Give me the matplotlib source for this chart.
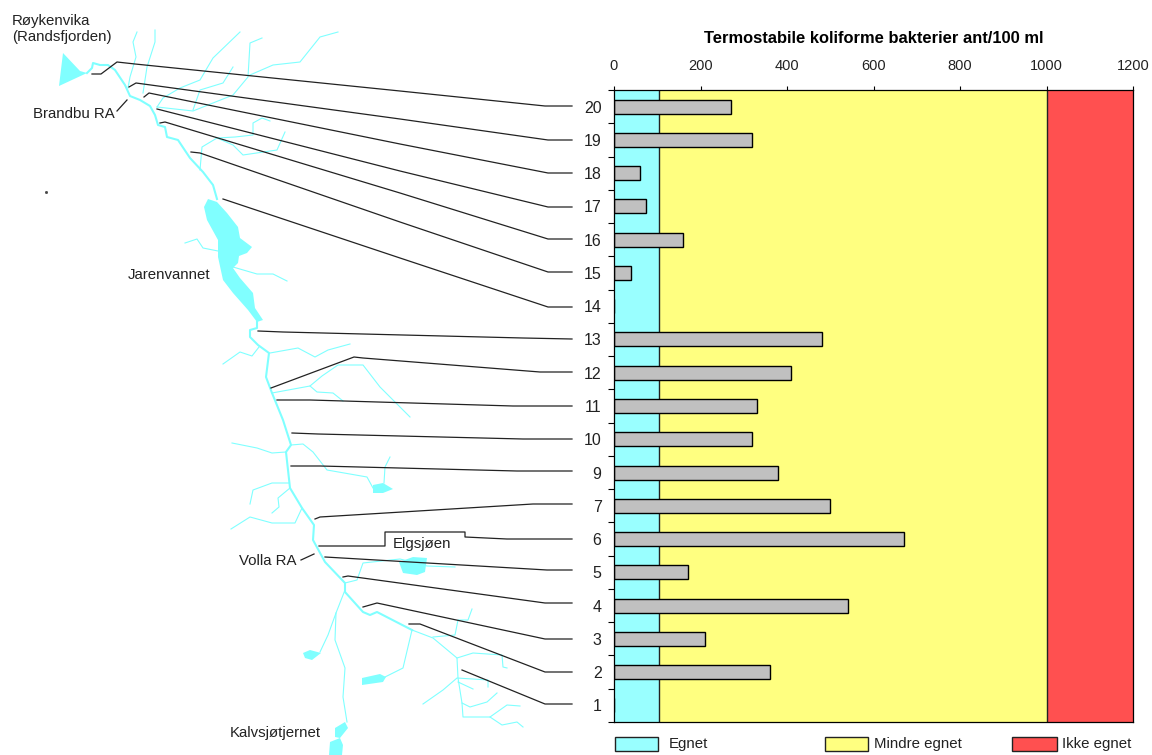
import numpy as np
import matplotlib
matplotlib.use('Agg')
import matplotlib.pyplot as plt
from matplotlib.patches import Rectangle, Polygon

plt.rcParams['font.family'] = ['Liberation Sans', 'DejaVu Sans']

# Stations, top to bottom (there is no station 8)
stations = ['20', '19', '18', '17', '16', '15', '14', '13', '12', '11', '10',
            '9', '7', '6', '5', '4', '3', '2', '1']
bacteria = [270, 320, 60, 75, 160, 40, 0, 480, 410, 330, 320,
            380, 500, 670, 170, 540, 210, 360, 0]
x_ticks = [0, 200, 400, 600, 800, 1000, 1200]

# Suitability classes: name, from, to
class_names = ['Egnet', 'Mindre egnet', 'Ikke egnet']
class_limits = [0, 103, 1000, 1200]
class_colors = ['#99FFFF', '#FFFF80', '#FF5050']

# Map in pixels
main_river = [(87, 73), (92, 68), (93, 63), (100, 65), (108, 65), (115, 70), (125, 85),
              (130, 96), (140, 100), (150, 106), (155, 115), (158, 125), (165, 127),
              (167, 137), (178, 140), (190, 158), (203, 172), (213, 185), (217, 199)]
main_river_south = [(257, 322), (257, 328), (250, 330), (250, 337), (258, 345), (269, 353),
                    (266, 377), (272, 393), (283, 420), (291, 445), (286, 452), (290, 488),
                    (302, 508), (314, 525), (313, 540), (325, 562), (345, 583), (345, 592),
                    (363, 612), (370, 615), (377, 612), (412, 630)]
tributaries = [
    [(137, 32), (133, 42), (136, 57), (130, 77), (128, 88)],
    [(155, 30), (155, 42), (147, 67), (143, 93)],
    [(240, 32), (213, 58), (200, 80), (180, 88), (163, 98), (157, 107)],
    [(233, 67), (223, 83), (200, 90), (193, 110)],
    [(262, 38), (250, 43), (248, 77), (233, 95), (193, 111), (157, 107)],
    [(338, 32), (320, 37), (300, 62), (273, 65), (250, 75)],
    [(200, 170), (202, 147), (217, 138), (235, 137), (253, 135), (253, 123), (262, 118), (270, 121)],
    [(217, 138), (233, 145), (243, 155), (277, 150), (285, 132)],
    [(185, 243), (197, 239), (203, 248), (218, 251)],
    [(233, 267), (257, 274), (273, 274), (287, 281)],
    [(223, 364), (240, 352), (252, 356), (259, 347)],
    [(270, 353), (298, 348), (315, 357), (328, 350), (350, 344)],
    [(272, 393), (310, 386), (322, 376), (338, 365), (363, 365), (380, 387), (410, 417)],
    [(310, 386), (317, 392), (333, 393), (343, 401)],
    [(232, 443), (257, 448), (272, 453), (286, 452)],
    [(291, 445), (303, 444), (313, 452), (327, 470), (367, 477), (373, 488)],
    [(390, 457), (385, 467), (384, 483)],
    [(250, 504), (253, 490), (272, 483), (289, 483)],
    [(290, 488), (278, 498), (279, 507), (272, 513)],
    [(231, 529), (250, 517), (272, 523), (295, 523), (302, 508)],
    [(345, 583), (357, 580), (363, 563), (400, 559), (427, 566), (455, 567)],
    [(345, 590), (336, 613), (335, 640), (345, 668), (343, 697), (347, 722)],
    [(336, 613), (328, 635), (320, 652)],
    [(412, 630), (403, 668), (385, 677)],
    [(412, 630), (433, 638), (457, 658), (458, 678), (462, 703), (463, 717), (490, 717),
     (502, 725), (517, 722), (523, 727)],
    [(433, 637), (455, 635), (458, 620), (468, 620), (472, 609)],
    [(457, 658), (473, 653), (502, 655), (503, 667), (507, 668)],
    [(423, 704), (443, 690), (457, 678), (488, 680), (488, 687)],
    [(458, 682), (473, 689)],
    [(462, 703), (470, 707), (487, 702), (497, 693)],
    [(490, 717), (507, 705), (520, 706)],
]
lakes = [
    [(63, 53), (80, 71), (87, 73), (59, 86)],
    [(208, 199), (217, 202), (227, 213), (238, 227), (240, 238), (252, 247), (247, 253),
     (239, 256), (238, 263), (233, 268), (240, 278), (253, 293), (255, 308), (263, 320),
     (257, 322), (248, 310), (233, 293), (223, 280), (218, 257), (218, 240), (207, 220), (204, 207)],
    [(373, 485), (383, 483), (393, 489), (383, 493), (373, 493)],
    [(399, 562), (413, 557), (427, 558), (425, 572), (417, 575), (403, 573)],
    [(303, 653), (310, 650), (321, 653), (312, 660), (305, 658)],
    [(362, 678), (380, 674), (386, 677), (383, 682), (362, 685)],
    [(335, 728), (345, 722), (348, 728), (340, 738), (335, 737)],
    [(330, 742), (340, 738), (343, 745), (342, 755), (329, 755)],
]
leaders = [
    [(92, 74), (101, 74), (117, 62), (135, 64), (400, 91), (545, 106), (572, 106)],
    [(129, 87), (136, 83), (400, 119), (548, 140), (572, 140)],
    [(144, 97), (149, 93), (400, 144), (548, 173), (572, 173)],
    [(157, 109), (400, 171), (548, 207), (572, 207)],
    [(160, 123), (165, 122), (400, 193), (548, 239), (572, 239)],
    [(191, 152), (200, 153), (400, 222), (548, 272), (572, 272)],
    [(223, 199), (400, 258), (548, 307), (572, 307)],
    [(258, 331), (283, 332), (523, 338), (572, 339)],
    [(271, 388), (354, 357), (363, 358), (540, 372), (572, 372)],
    [(277, 400), (310, 400), (513, 406), (572, 406)],
    [(292, 433), (318, 434), (523, 439), (572, 439)],
    [(291, 466), (320, 466), (517, 471), (572, 471)],
    [(315, 519), (320, 517), (533, 504), (572, 504)],
    [(319, 546), (385, 546), (385, 532), (465, 532), (465, 537), (507, 539), (572, 539)],
    [(325, 557), (547, 570), (572, 570)],
    [(343, 577), (348, 576), (545, 603), (572, 603)],
    [(363, 607), (377, 603), (545, 639), (572, 639)],
    [(409, 624), (420, 624), (545, 672), (572, 672)],
    [(462, 670), (545, 704), (572, 704)],
    [(117, 111), (127, 100)],
    [(301, 560), (314, 554)],
]
place_names = [('Røykenvika\n(Randsfjorden)', 12, 29), ('Brandbu RA', 33, 114), ('Jarenvannet', 128, 275),
               ('Elgsjøen', 393, 544), ('Volla RA', 239, 561), ('Kalvsjøtjernet', 230, 733)]

fig = plt.figure(figsize=(11.52, 7.55), dpi=100)
W, H = 1152, 755

# Bar chart
ax = fig.add_axes([614 / W, 1 - 722 / H, (1133 - 614) / W, (722 - 90) / H])
for i in range(3):
    ax.axvspan(class_limits[i], class_limits[i + 1], color=class_colors[i], lw=0, zorder=0)
for lim in class_limits[1:3]:
    ax.axvline(lim, color='#222222', lw=1, zorder=1)

y = np.arange(len(stations))
ax.barh(y, bacteria, height=0.42, color='#C0C0C0', edgecolor='black', lw=1, zorder=2)
ax.set_xlim(0, 1200)
ax.set_ylim(len(stations) - 0.5, -0.5)
ax.xaxis.tick_top()
ax.set_xticks(x_ticks)
ax.tick_params(axis='x', length=3, width=0.8, pad=9, labelsize=10.5, labelcolor='#222222')
ax.set_yticks(np.arange(len(stations) + 1) - 0.5)
ax.set_yticklabels([])
ax.tick_params(axis='y', which='major', length=4, width=0.8)
ax.set_yticks(y, minor=True)
ax.set_yticklabels(stations, minor=True)
ax.tick_params(axis='y', which='minor', length=0, pad=9, labelsize=11.5, labelcolor='#222222')
for s in ax.spines.values():
    s.set_linewidth(0.9)
ax.set_title('Termostabile koliforme bakterier ant/100 ml', fontsize=11.9, fontweight='bold', pad=34)

# Map and legend share one axes in picture pixels
over = fig.add_axes([0, 0, 1, 1], facecolor='none')
over.set_xlim(0, W)
over.set_ylim(H, 0)
over.axis('off')

for t in tributaries:
    over.plot(*zip(*t), color='#80FFFF', lw=0.8, zorder=1)
over.plot(*zip(*main_river), color='#80FFFF', lw=1.5, zorder=1)
over.plot(*zip(*main_river_south), color='#80FFFF', lw=1.5, zorder=1)
for lake in lakes:
    over.add_patch(Polygon(lake, closed=True, color='#80FFFF', lw=0, zorder=1))
for leader in leaders:
    over.plot(*zip(*leader), color='#222222', lw=0.9, zorder=2)
over.plot([46], [192], 's', ms=1, color='#444444')
for name, px, py in place_names:
    over.text(px, py, name, fontsize=10.8, color='#222222', ha='left', va='center', linespacing=1.25, zorder=3)

legend_x = [(615, 658, 669), (825, 868, 874), (1012, 1057, 1062)]
for (x0, x1, tx), name, col in zip(legend_x, class_names, class_colors):
    over.add_patch(Rectangle((x0, 737), x1 - x0, 14, facecolor=col, edgecolor='#222222', lw=1))
    over.text(tx, 744, name, fontsize=10.8, color='#222222', va='center')

fig.savefig('out.png', dpi=100)
